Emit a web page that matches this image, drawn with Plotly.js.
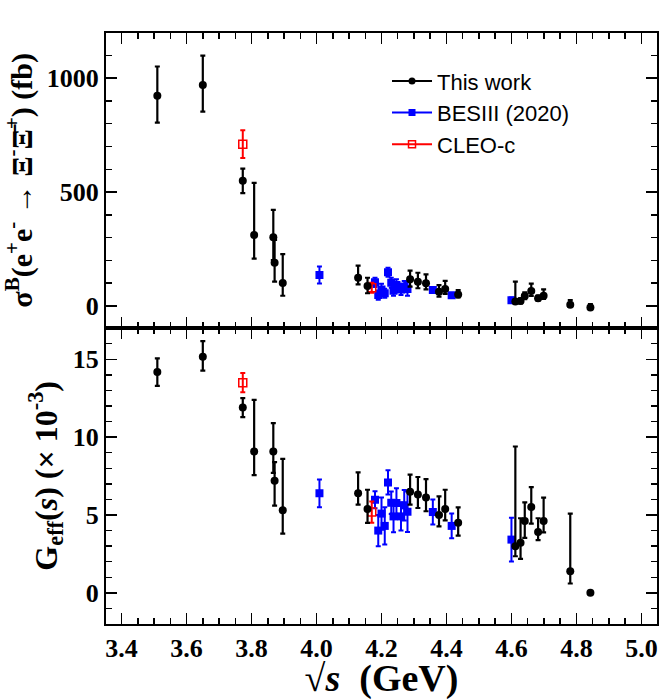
<!DOCTYPE html>
<html>
<head>
<meta charset="utf-8">
<script src="https://cdn.plot.ly/plotly-3.0.1.min.js"></script>
<style>html,body{margin:0;padding:0;background:#fff;}#plot{width:664px;height:700px;}</style>
</head>
<body>
<div id="plot"></div>
<script>
// ---- This work ----
var workE = [3.510, 3.650, 3.773, 3.808, 3.867, 3.871, 3.896, 4.128, 4.157, 4.288, 4.312, 4.337, 4.377, 4.396, 4.436, 4.612, 4.628, 4.641, 4.661, 4.682, 4.699, 4.781, 4.843];
var workSig = [923, 970, 550, 312, 302, 190, 101, 124, 88, 117, 107, 100, 63, 75, 51, 20, 22, 44, 66, 34, 45, 6, -6];
var workSigUp = [128, 129, 53, 228, 120, 100, 127, 53, 36, 38, 39, 39, 29, 35, 19, 87, 12, 16, 32, 12, 28, 20, 14];
var workSigDn = [118, 117, 55, 104, 100, 83, 56, 29, 32, 32, 29, 27, 22, 22, 13, 8, 10, 14, 22, 10, 14, 8, 8];
var workG = [14.19, 15.17, 11.90, 9.08, 9.08, 7.20, 5.30, 6.39, 5.38, 6.50, 6.32, 6.13, 5.00, 5.38, 4.51, 2.99, 3.21, 4.62, 5.51, 3.91, 4.62, 1.39, 0.00];
var workGUp = [0.87, 1.00, 0.60, 3.31, 1.82, 1.20, 3.30, 1.35, 1.24, 1.09, 1.12, 1.18, 1.20, 1.24, 0.98, 6.41, 1.58, 1.19, 1.28, 0.88, 1.49, 3.70, 0.00];
var workGDn = [0.90, 0.90, 0.62, 1.52, 1.38, 1.60, 1.50, 0.73, 0.89, 0.84, 0.87, 0.89, 0.73, 0.72, 0.83, 0.64, 1.03, 1.09, 1.07, 0.53, 0.73, 0.79, 0.00];

// ---- BESIII (2020) ----
var besE = [4.009, 4.180, 4.190, 4.200, 4.210, 4.220, 4.230, 4.237, 4.246, 4.260, 4.270, 4.280, 4.358, 4.416, 4.600];
var besSig = [136, 104, 48, 73, 56, 148, 102, 67, 92, 73, 85, 75, 70, 47, 25];
var besSigErr = [37, 20, 20, 25, 20, 20, 22, 22, 25, 25, 25, 30, 12, 10, 12];
var besG = [6.39, 5.98, 4.00, 5.09, 4.30, 7.09, 5.79, 4.91, 5.77, 4.91, 5.62, 5.21, 5.19, 4.30, 3.42];
var besGErr = [0.89, 0.55, 1.00, 1.03, 1.20, 0.78, 0.72, 1.02, 0.95, 0.90, 0.98, 1.30, 0.80, 0.80, 1.40];

// ---- CLEO-c ----
var cleoE = [3.773, 4.170];
var cleoSig = [710, 80];
var cleoSigErr = [61, 22];
var cleoG = [13.50, 5.19];
var cleoGErr = [0.62, 0.68];

var BLUE = '#0000ff', RED = '#ff0000', BLACK = '#000000';

function eb(arr, arrm, color, th) {
  var o = {type: 'data', array: arr, color: color, thickness: th, width: 2.5, visible: true};
  if (arrm) { o.symmetric = false; o.arrayminus = arrm; } else { o.symmetric = true; }
  return o;
}

var traces = [
  // top panel
  {x: besE, y: besSig, xaxis: 'x', yaxis: 'y', mode: 'markers', type: 'scatter', showlegend: false,
   marker: {symbol: 'square', size: 8, color: BLUE}, error_y: eb(besSigErr, null, BLUE, 2)},
  {x: cleoE, y: cleoSig, xaxis: 'x', yaxis: 'y', mode: 'markers', type: 'scatter', showlegend: false,
   marker: {symbol: 'square-open', size: 8, color: RED, line: {width: 1.5}}, error_y: eb(cleoSigErr, null, RED, 2)},
  {x: workE, y: workSig, xaxis: 'x', yaxis: 'y', mode: 'markers', type: 'scatter', showlegend: false,
   marker: {symbol: 'circle', size: 8, color: BLACK}, error_y: eb(workSigUp, workSigDn, BLACK, 2.2)},
  // bottom panel
  {x: besE, y: besG, xaxis: 'x2', yaxis: 'y2', mode: 'markers', type: 'scatter', showlegend: false,
   marker: {symbol: 'square', size: 8, color: BLUE}, error_y: eb(besGErr, null, BLUE, 2)},
  {x: cleoE, y: cleoG, xaxis: 'x2', yaxis: 'y2', mode: 'markers', type: 'scatter', showlegend: false,
   marker: {symbol: 'square-open', size: 8, color: RED, line: {width: 1.5}}, error_y: eb(cleoGErr, null, RED, 2)},
  {x: workE, y: workG, xaxis: 'x2', yaxis: 'y2', mode: 'markers', type: 'scatter', showlegend: false,
   marker: {symbol: 'circle', size: 8, color: BLACK}, error_y: eb(workGUp, workGDn, BLACK, 2.2)},
  // legend entries
  {x: [null], y: [null], xaxis: 'x', yaxis: 'y', mode: 'lines+markers', name: 'This work',
   line: {color: BLACK, width: 2}, marker: {symbol: 'circle', size: 7, color: BLACK}},
  {x: [null], y: [null], xaxis: 'x', yaxis: 'y', mode: 'lines+markers', name: 'BESIII (2020)',
   line: {color: BLUE, width: 2}, marker: {symbol: 'square', size: 7, color: BLUE}},
  {x: [null], y: [null], xaxis: 'x', yaxis: 'y', mode: 'lines+markers', name: 'CLEO-c',
   line: {color: RED, width: 2}, marker: {symbol: 'square-open', size: 7, color: RED, line: {width: 1.5}}}
];

var tickFont = {family: 'Liberation Serif, Times New Roman, serif', size: 26, color: '#000', weight: 'bold'};
var split = 0.5014;

function xax(extra) {
  var a = {range: [3.352, 5.048], showgrid: false, zeroline: false, showline: true, linecolor: '#000', linewidth: 2,
    mirror: 'ticks', ticks: 'inside', ticklen: 11, tickwidth: 1.5, tickcolor: '#000', dtick: 0.2, tick0: 3.4,
    tickformat: '.1f', tickfont: tickFont,
    minor: {dtick: 0.05, ticklen: 6, ticks: 'inside', tickwidth: 1.5, tickcolor: '#000', showgrid: false}};
  for (var k in extra) a[k] = extra[k];
  return a;
}
function yax(extra) {
  var a = {showgrid: false, zeroline: false, showline: true, linecolor: '#000', linewidth: 2,
    mirror: 'ticks', ticks: 'inside', ticklen: 11, tickwidth: 1.5, tickcolor: '#000', tickfont: tickFont};
  for (var k in extra) a[k] = extra[k];
  return a;
}

var layout = {
  width: 664, height: 700,
  margin: {l: 106, r: 7, t: 33, b: 76},
  paper_bgcolor: '#fff', plot_bgcolor: '#fff',
  font: {family: 'Liberation Serif, serif', color: '#000'},
  xaxis: xax({anchor: 'y', showticklabels: false, domain: [0, 1]}),
  xaxis2: xax({anchor: 'y2', matches: 'x', domain: [0, 1],
    title: {text: '\u221A<i>s</i>  (GeV)', font: {family: 'Liberation Serif, serif', size: 38, weight: 'bold', color: '#000'}, standoff: 12}}),
  yaxis: yax({anchor: 'x', domain: [split, 1], range: [-95, 1198], tickvals: [0, 500, 1000],
    minor: {dtick: 100, ticklen: 6, ticks: 'inside', tickwidth: 1.5, tickcolor: '#000', showgrid: false},
    title: {text: '\u03C3<sup>B</sup>(e<sup>+</sup>e<sup>-</sup> \u2192 \u039E<sup>-</sup>\u039E\u0304<sup>+</sup>) (fb)',
      font: {family: 'Liberation Serif, serif', size: 30, weight: 'bold', color: '#000'}, standoff: 6}}),
  yaxis2: yax({anchor: 'x2', domain: [0, split], range: [-2, 17.03], tickvals: [0, 5, 10, 15],
    minor: {dtick: 1, ticklen: 6, ticks: 'inside', tickwidth: 1.5, tickcolor: '#000', showgrid: false},
    title: {text: 'G<sub>eff</sub>(<i>s</i>) (\u00D7 10<sup>-3</sup>)',
      font: {family: 'Liberation Serif, serif', size: 32, weight: 'bold', color: '#000'}, standoff: 6}}),
  showlegend: true,
  legend: {x: 0.51, y: 0.954, xanchor: 'left', yanchor: 'top', bgcolor: 'rgba(0,0,0,0)', itemwidth: 40,
    font: {family: 'Liberation Sans, Arial, sans-serif', size: 22, color: '#000'}, tracegroupgap: 0}
};

Plotly.newPlot('plot', traces, layout, {staticPlot: true, displayModeBar: false});
</script>
</body>
</html>
